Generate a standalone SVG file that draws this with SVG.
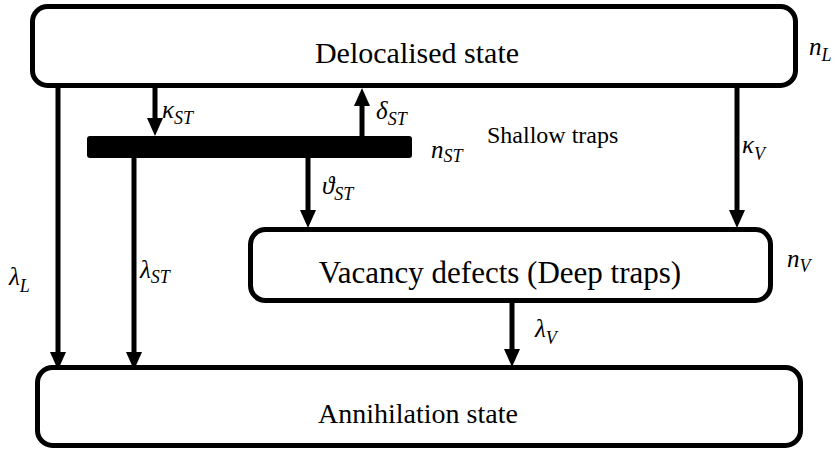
<svg xmlns="http://www.w3.org/2000/svg" width="837" height="451" viewBox="0 0 837 451">
<style>
.box{fill:#fff;stroke:#000;stroke-width:5}
.m{font-style:italic;font-size:25px}
.s{font-size:18px}
.c{stroke:#000;stroke-width:5;fill:none;marker-end:url(#ah)}
</style>
<defs>
<marker id="ah" markerUnits="userSpaceOnUse" markerWidth="18" markerHeight="16" viewBox="0 0 18 16" refX="8" refY="8" orient="auto">
<path d="M0,0 L18,8 L0,16 z" fill="#000"/>
</marker>
</defs>
<rect width="837" height="451" fill="#fff"/>
<g id="connectors">
<line class="c" x1="58" y1="88" x2="58" y2="360"/>
<line class="c" x1="155" y1="88" x2="155" y2="126"/>
<line class="c" x1="362" y1="137" x2="362" y2="98"/>
<line class="c" x1="134" y1="157" x2="134" y2="360"/>
<line class="c" x1="308" y1="157" x2="308" y2="218"/>
<line class="c" x1="737" y1="88" x2="737" y2="218"/>
<line class="c" x1="512" y1="303" x2="512" y2="357"/>
</g>
<g font-family="Liberation Serif, DejaVu Serif, serif" fill="#000">
<g id="delocalised">
<rect class="box" x="32.5" y="6.5" width="763" height="79" rx="15"/>
<text x="417" y="63" font-size="30" text-anchor="middle">Delocalised state</text>
<text class="m" x="809" y="55">n<tspan class="s" dy="6">L</tspan></text>
</g>
<g id="shallow-traps">
<rect x="87" y="136" width="325" height="22" rx="3" fill="#000"/>
<text x="487" y="143" font-size="24">Shallow traps</text>
<text class="m" x="431" y="158">n<tspan class="s" dy="4">ST</tspan></text>
</g>
<g id="vacancy">
<rect class="box" x="250.5" y="229.5" width="520" height="71" rx="15"/>
<text x="500" y="283" font-size="31" text-anchor="middle">Vacancy defects (Deep traps)</text>
<text class="m" x="787" y="267">n<tspan class="s" dy="5">V</tspan></text>
</g>
<g id="annihilation">
<rect class="box" x="37.5" y="367.5" width="763" height="78" rx="15"/>
<text x="418" y="423" font-size="28" text-anchor="middle">Annihilation state</text>
</g>
<g id="labels">
<text class="m" x="162" y="118">κ<tspan class="s" dy="6">ST</tspan></text>
<text class="m" x="376" y="119">δ<tspan class="s" dy="6">ST</tspan></text>
<text class="m" x="322" y="194">ϑ<tspan class="s" dy="6">ST</tspan></text>
<text class="m" x="742" y="153">κ<tspan class="s" dy="7">V</tspan></text>
<text class="m" x="9" y="285">λ<tspan class="s" dy="7">L</tspan></text>
<text class="m" x="140" y="278">λ<tspan class="s" dy="5">ST</tspan></text>
<text class="m" x="535" y="337">λ<tspan class="s" dy="7">V</tspan></text>
</g>
</g>
</svg>
